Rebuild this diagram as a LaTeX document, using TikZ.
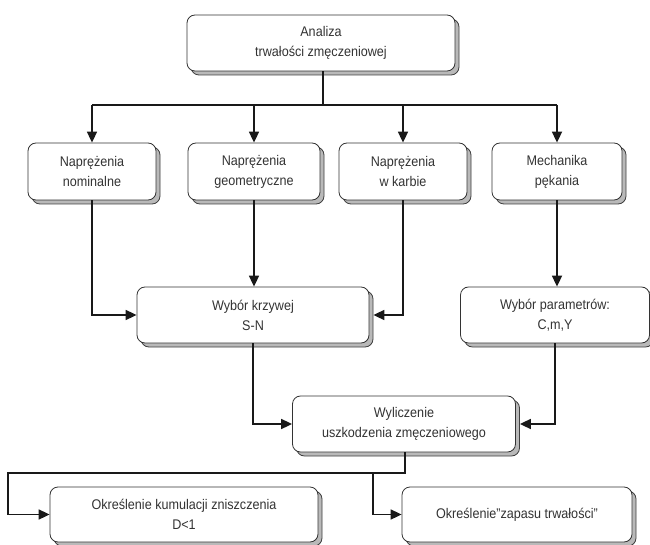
\documentclass[tikz,border=0pt]{standalone}
\usepackage{fontspec}
\setmainfont{Liberation Sans}[FakeStretch=0.9]
\usetikzlibrary{arrows.meta,shadows}
\tikzset{
  box/.style={draw=black!80,line width=0.8pt,fill=white,rounded corners=8pt,
    align=center,inner sep=0pt,text=black!80,
    font=\fontsize{14}{20}\selectfont,
    copy shadow={shadow xshift=4pt,shadow yshift=-4pt,fill=gray!55,draw=black!75,line width=0.8pt}},
  link/.style={line width=1.7pt,black!90,line join=miter},
  arr/.style={link,-{Triangle[length=11pt,width=10pt]}}
}

\begin{document}
\begin{tikzpicture}[x=1pt,y=-1pt]
    \useasboundingbox (0,0) rectangle (650,545);
    % boxes
    \node[box,minimum width=268pt,minimum height=56pt] (top) at (321,43) {Analiza\\trwałości zmęczeniowej};
    \node[box,minimum width=128pt,minimum height=57pt] (nom) at (92,171.5) {Naprężenia\\nominalne};
    \node[box,minimum width=132pt,minimum height=57pt] (geo) at (254,171.5) {Naprężenia\\geometryczne};
    \node[box,minimum width=128pt,minimum height=57pt] (karb) at (403,171.5) {Naprężenia\\w karbie};
    \node[box,minimum width=130pt,minimum height=57pt] (mech) at (557,171.5) {Mechanika\\pękania};
    \node[box,minimum width=232pt,minimum height=56pt] (sn) at (253,315) {Wybór krzywej\\S-N};
    \node[box,minimum width=189pt,minimum height=56pt] (par) at (555,315) {Wybór parametrów:\\C,m,Y};
    \node[box,minimum width=223pt,minimum height=56pt] (wyl) at (404,424) {Wyliczenie\\uszkodzenia zmęczeniowego};
    \node[box,minimum width=268pt,minimum height=55pt] (kum) at (184,514.5) {Określenie kumulacji zniszczenia\\D<1};
    \node[box,minimum width=230pt,minimum height=55pt] (zap) at (517,514.5) {Określenie"zapasu trwałości"};
    % connectors
    \coordinate (bus) at (323,105);
    \draw[link] (top.south -| bus) -- (bus);
    \draw[link] (nom.north |- bus) -- (mech.north |- bus);
    \foreach \n in {nom,geo,karb,mech}
      \draw[arr] (\n.north |- bus) -- (\n.north);
    \draw[arr] (nom.south) |- (sn.west);
    \draw[arr] (geo.south) -- (geo.south |- sn.north);
    \draw[arr] (karb.south) |- ([xshift=4pt]sn.east);
    \draw[arr] (mech.south) -- (mech.south |- par.north);
    \draw[arr] (sn.south) |- (wyl.west);
    \draw[arr] (par.south) |- ([xshift=4pt]wyl.east);
    \coordinate (split) at (405,473);
    \coordinate (lft) at (8,473);
    \coordinate (br) at (373,473);
    \draw[arr] (wyl.south -| split) -- (split) -- (lft) |- (kum.west);
    \draw[arr] (br) |- (zap.west);
\end{tikzpicture}
\end{document}
